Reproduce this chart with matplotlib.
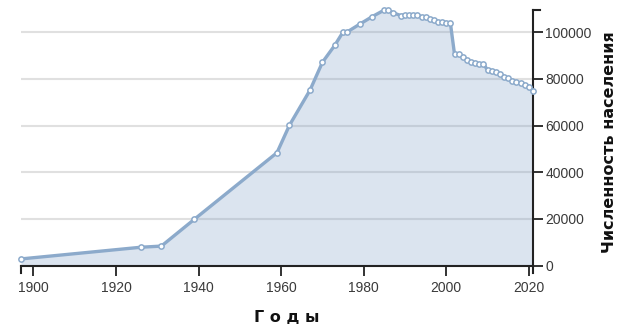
import matplotlib
matplotlib.use("Agg")
import matplotlib.pyplot as plt

years = [1897, 1926, 1931, 1939, 1959, 1962, 1967, 1970, 1973, 1975, 1976, 1979,
         1982, 1985, 1986, 1987, 1989, 1990, 1991, 1992, 1993, 1994, 1995, 1996,
         1997, 1998, 1999, 2000, 2001, 2002, 2003, 2004, 2005, 2006, 2007, 2008,
         2009, 2010, 2011, 2012, 2013, 2014, 2015, 2016, 2017, 2018, 2019, 2020, 2021]
population = [2900, 7900, 8400, 19900, 48400, 60100, 75200, 87100, 94400, 100100, 100100, 103400,
              106600, 109500, 109500, 108400, 107100, 107500, 107500, 107500, 107500, 106600, 106600, 105500,
              105200, 104400, 104400, 104100, 103800, 90500, 90500, 89300, 88100, 87100, 86700, 86500,
              86500, 83700, 83400, 82800, 82000, 80900, 80200, 79200, 78800, 78300, 77500, 76700, 74800]
xticks = [1900, 1920, 1940, 1960, 1980, 2000, 2020]
yticks = [0, 20000, 40000, 60000, 80000, 100000]
xlabel = "Г о д ы"
ylabel = "Численность населения"

W, H = 624, 328
fig = plt.figure(figsize=(W / 100, H / 100), dpi=100)
left, right, top, bottom = 21, 533, 10, 265.7
ax = fig.add_axes([left / W, 1 - bottom / H, (right - left) / W, (bottom - top) / H])

line_color = "#8caacb"
ax.fill_between(years, population, 0, color="#7b9cc4", alpha=0.27, lw=0, zorder=2)
ax.plot(years, population, color=line_color, lw=2.4, zorder=3, solid_joinstyle="round")
ax.plot(years, population, ls="none", marker="o", ms=3.8, mfc="white", mec=line_color,
        mew=1.1, zorder=4, clip_on=False)

ax.set_xlim(1897, 2021)
ax.set_ylim(0, max(population))
ax.set_xticks(xticks)
ax.set_yticks(yticks)
ax.set_xticklabels([str(t) for t in xticks], fontsize=10, family="Liberation Sans", color="#3a3a3a")
ax.set_yticklabels([str(t) for t in yticks], fontsize=10, family="Liberation Sans", color="#3a3a3a")

ax.yaxis.tick_right()
ax.tick_params(axis="x", direction="out", length=7, width=1.3, color="#222222", pad=4)
ax.tick_params(axis="y", direction="out", length=7, width=1.3, color="#222222", pad=2)
ax.set_axisbelow(True)
ax.grid(axis="y", color="#e0e0e0", lw=1.5)
ax.grid(axis="x", visible=False)

for s in ["top", "left"]:
    ax.spines[s].set_visible(False)
ax.spines["right"].set_visible(True)
ax.spines["bottom"].set_linewidth(1.5)
ax.spines["right"].set_linewidth(1.5)
ax.spines["bottom"].set_color("#222222")
ax.spines["right"].set_color("#222222")

# outer end ticks (domain path)
ax.plot([0, 0], [0, -7 / (bottom - top)], transform=ax.transAxes, color="#222222", lw=1.5, clip_on=False)
ax.plot([1, 1], [0, -7 / (bottom - top)], transform=ax.transAxes, color="#222222", lw=1.5, clip_on=False)
ax.plot([1, 1 + 7 / (right - left)], [1, 1], transform=ax.transAxes, color="#222222", lw=1.5, clip_on=False)

fig.text(287 / W, 1 - 318 / H, xlabel, ha="center", va="center", fontsize=11.5,
         fontweight="bold", family="DejaVu Sans", color="#111111")
fig.text(610 / W, 1 - 142 / H, ylabel, ha="center", va="center", rotation=90, fontsize=11.5,
         fontweight="bold", family="DejaVu Sans", color="#111111")

fig.savefig("out.png", dpi=100)
